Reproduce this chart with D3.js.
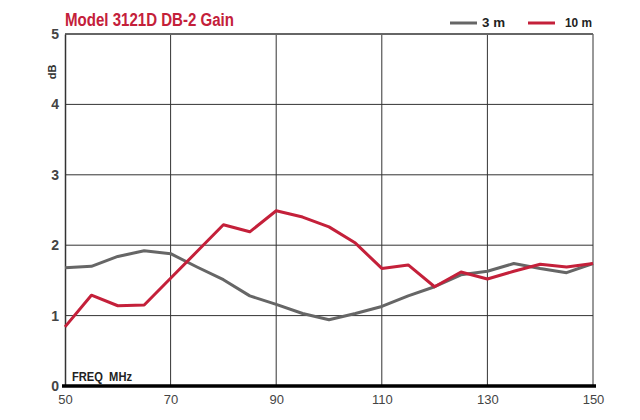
<!DOCTYPE html>
<html>
<head>
<meta charset="utf-8">
<script src="https://cdn.jsdelivr.net/npm/d3@7"></script>
<style>
	body { margin: 0; background: #fff; }
	svg { display: block; font-family: 'Liberation Sans', Arial, sans-serif; }
</style>
</head>
<body>
<svg class="gain-chart" width="640" height="420"></svg>
<script>
// data
let freqs = [50, 55, 60, 65, 70, 75, 80, 85, 90, 95, 100, 105, 110, 115, 120, 125, 130, 135, 140, 145, 150];
let gain3m = [1.68, 1.70, 1.84, 1.92, 1.88, 1.69, 1.51, 1.28, 1.16, 1.03, 0.94, 1.03, 1.13, 1.28, 1.41, 1.58, 1.63, 1.74, 1.67, 1.61, 1.74];
let gain10m = [0.84, 1.29, 1.14, 1.15, 1.53, 1.91, 2.29, 2.19, 2.49, 2.40, 2.26, 2.03, 1.67, 1.72, 1.41, 1.62, 1.52, 1.63, 1.73, 1.69, 1.74];
let xTicks = [50, 70, 90, 110, 130, 150];
let yTicks = [0, 1, 2, 3, 4, 5];

let margin = { top: 34, right: 47, bottom: 34, left: 65 };
let width = 640 - margin.left - margin.right;
let height = 420 - margin.top - margin.bottom;

let red = '#c4203a';
let grey = '#666';
let font = "'Liberation Sans', Arial, sans-serif";

let x = d3.scaleLinear().domain([50, 150]).range([0, width]);
let y = d3.scaleLinear().domain([0, 5]).range([height, 0]);

let svg = d3.select('.gain-chart');
let g = svg.append('g').attr('transform', 'translate(' + margin.left + ',' + margin.top + ')');

// grid
g.append('g')
	.selectAll('line')
	.data(xTicks.slice(1))
	.enter().append('line')
	.attr('x1', function(d) { return x(d); })
	.attr('x2', function(d) { return x(d); })
	.attr('y1', 0).attr('y2', height)
	.attr('stroke', '#333').attr('stroke-width', 1);

g.append('g')
	.selectAll('line')
	.data(yTicks.slice(1, -1))
	.enter().append('line')
	.attr('x1', 0).attr('x2', width)
	.attr('y1', function(d) { return y(d); })
	.attr('y2', function(d) { return y(d); })
	.attr('stroke', '#333').attr('stroke-width', 1);

// top border
g.append('line')
	.attr('x1', 0).attr('x2', width)
	.attr('y1', 0).attr('y2', 0)
	.attr('stroke', '#666').attr('stroke-width', 2);

// left axis
let yAxis = g.append('g')
	.call(d3.axisLeft(y).tickValues(yTicks).tickFormat(d3.format('d')).tickSize(0).tickPadding(6));
yAxis.select('.domain').attr('stroke', '#333').attr('stroke-width', 1.5);
yAxis.selectAll('text')
	.attr('font-size', 14).attr('font-weight', 'bold').attr('fill', '#444')
	.attr('font-family', font);

// bottom axis
let xAxis = g.append('g')
	.attr('transform', 'translate(0,' + height + ')')
	.call(d3.axisBottom(x).tickValues(xTicks).tickSize(0).tickPadding(9));
xAxis.select('.domain').remove();
xAxis.selectAll('text')
	.attr('font-size', 13).attr('fill', '#444')
	.attr('font-family', font);

g.append('line')
	.attr('x1', -3).attr('x2', width + 3)
	.attr('y1', height).attr('y2', height)
	.attr('stroke', '#000').attr('stroke-width', 3.5);

// series lines
let line = d3.line()
	.x(function(d, i) { return x(freqs[i]); })
	.y(function(d) { return y(d); });

g.append('path')
	.datum(gain3m)
	.attr('d', line)
	.attr('fill', 'none')
	.attr('stroke', grey)
	.attr('stroke-width', 3)
	.attr('stroke-linejoin', 'round');

g.append('path')
	.datum(gain10m)
	.attr('d', line)
	.attr('fill', 'none')
	.attr('stroke', red)
	.attr('stroke-width', 3)
	.attr('stroke-linejoin', 'round');

// labels (condensed look via textLength)
svg.append('text')
	.attr('x', 65).attr('y', 26)
	.attr('font-size', 18).attr('font-weight', 'bold')
	.attr('fill', red)
	.attr('textLength', 169).attr('lengthAdjust', 'spacingAndGlyphs')
	.text('Model 3121D DB-2 Gain');

svg.append('text')
	.attr('transform', 'translate(56,72) rotate(-90)')
	.attr('text-anchor', 'middle')
	.attr('font-size', 11).attr('font-weight', 'bold').attr('fill', '#333')
	.text('dB');

g.append('text')
	.attr('x', 7).attr('y', height - 5)
	.attr('font-size', 12).attr('font-weight', 'bold').attr('fill', '#222')
	.attr('textLength', 60).attr('lengthAdjust', 'spacingAndGlyphs')
	.text('FREQ\u00a0\u00a0MHz');

// legend
let legend = svg.append('g');
legend.append('line')
	.attr('x1', 450).attr('x2', 477).attr('y1', 23).attr('y2', 23)
	.attr('stroke', grey).attr('stroke-width', 3);
legend.append('text')
	.attr('x', 482).attr('y', 27)
	.attr('font-size', 12).attr('font-weight', 'bold').attr('fill', '#222')
	.attr('textLength', 23).attr('lengthAdjust', 'spacingAndGlyphs')
	.text('3 m');
legend.append('line')
	.attr('x1', 528).attr('x2', 555).attr('y1', 23).attr('y2', 23)
	.attr('stroke', red).attr('stroke-width', 3);
legend.append('text')
	.attr('x', 565).attr('y', 27)
	.attr('font-size', 12).attr('font-weight', 'bold').attr('fill', '#222')
	.attr('textLength', 27).attr('lengthAdjust', 'spacingAndGlyphs')
	.text('10 m');
</script>
</body>
</html>
